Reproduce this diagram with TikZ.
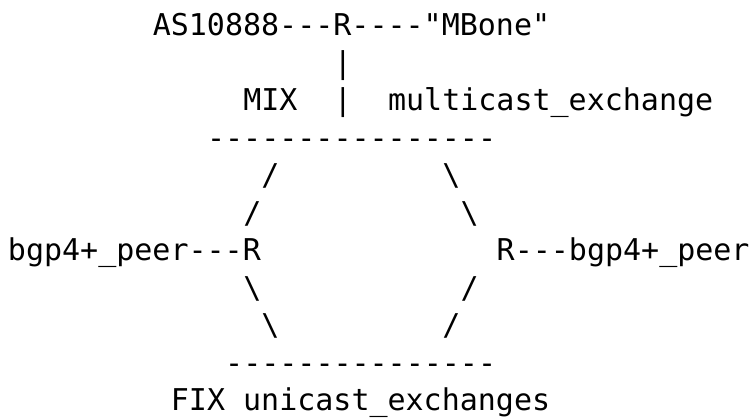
\documentclass[tikz,border=0pt]{standalone}
\usepackage{fontspec}
\setmonofont{DejaVu Sans Mono}
\begin{document}
\begin{tikzpicture}[x=1pt,y=1pt,
  txt/.style={anchor=base west,inner sep=0pt,outer sep=0pt,
    font=\ttfamily\fontsize{30}{30}\selectfont,text=black}]
\useasboundingbox (0,0) rectangle (751,417);
\def\cw{18.1}
\def\cs{8}
% line baselines: 381 - 37.5*(k-1)
\node[txt] (l1)  at ({\cs+8*\cw},381)   {AS10888---R----"MBone"};
\node[txt] (l2)  at ({\cs+18*\cw},343.5) {|};
\node[txt] (l3a) at ({\cs+13*\cw},306)  {MIX};
\node[txt] (l3b) at ({\cs+18*\cw},306)  {|};
\node[txt] (l3c) at ({\cs+21*\cw},306)  {multicast\_exchange};
\node[txt] (l4)  at ({\cs+11*\cw},268.5) {----------------};
\node[txt] (l5a) at ({\cs+14*\cw},231)  {/};
\node[txt] (l5b) at ({\cs+24*\cw},231)  {\textbackslash};
\node[txt] (l6a) at ({\cs+13*\cw},193.5) {/};
\node[txt] (l6b) at ({\cs+25*\cw},193.5) {\textbackslash};
\node[txt] (l7a) at ({\cs+0*\cw},156)   {bgp4+\_peer---R};
\node[txt] (l7b) at ({\cs+27*\cw},156)  {R---bgp4+\_peer};
\node[txt] (l8a) at ({\cs+13*\cw},118.5) {\textbackslash};
\node[txt] (l8b) at ({\cs+25*\cw},118.5) {/};
\node[txt] (l9a) at ({\cs+14*\cw},81)   {\textbackslash};
\node[txt] (l9b) at ({\cs+24*\cw},81)   {/};
\node[txt] (l10) at ({\cs+12*\cw},43.5) {---------------};
\node[txt] (l11) at ({\cs+9*\cw},6)     {FIX unicast\_exchanges};
\end{tikzpicture}
\end{document}
